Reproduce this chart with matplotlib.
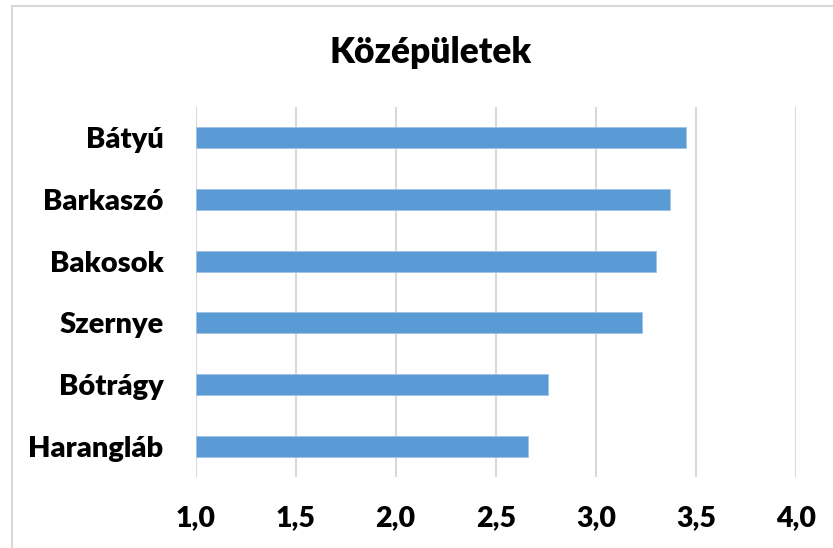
import matplotlib.pyplot as plt
from matplotlib.patches import Rectangle

# category names, top to bottom, and their scores
telepules = ['Bátyú', 'Barkaszó', 'Bakosok', 'Szernye', 'Bótrágy', 'Harangláb']
ertek = [3.45, 3.37, 3.30, 3.23, 2.76, 2.66]
x_ticks = [1.0, 1.5, 2.0, 2.5, 3.0, 3.5, 4.0]

plt.rcParams['font.family'] = ['Lato', 'DejaVu Sans']

fig = plt.figure(figsize=(8.33, 5.48), dpi=100)
ax = fig.add_axes([0.2347, 0.1296, 0.7209, 0.6751])

# thin frame around the chart area
fig.patches.append(Rectangle((12 / 833, -0.05), 1.1, 1 - 6 / 548 + 0.05,
                             transform=fig.transFigure, fill=False,
                             edgecolor='#d9d9d9', linewidth=1.5))

pos = list(range(len(telepules)))[::-1]
left = 1.0
ax.barh(pos, [v - left for v in ertek], left=left, height=0.34,
        color='#5b9bd5', edgecolor='#9dc3e6', linewidth=0.6, zorder=3)

ax.set_xlim(1.0, 4.0)
ax.set_ylim(-0.5, len(telepules) - 0.5)
ax.set_xticks(x_ticks)
ax.set_xticklabels([f'{t:.1f}'.replace('.', ',') for t in x_ticks])
ax.set_yticks(pos)
ax.set_yticklabels(telepules)

for lab in ax.get_xticklabels():
    lab.set_fontsize(20.5)
    lab.set_fontweight('heavy')
for lab in ax.get_yticklabels():
    lab.set_fontsize(21)
    lab.set_fontweight('heavy')

ax.tick_params(axis='x', length=0, pad=20, colors='black')
ax.tick_params(axis='y', length=0, pad=23, colors='black')

ax.grid(axis='x', color='#d9d9d9', linewidth=1.5, zorder=0)
for s in ax.spines.values():
    s.set_visible(False)

fig.text(0.517, 0.905, 'Középületek', ha='center', va='center',
         fontsize=25.5, fontweight='heavy')

fig.savefig('out.png', dpi=100)
